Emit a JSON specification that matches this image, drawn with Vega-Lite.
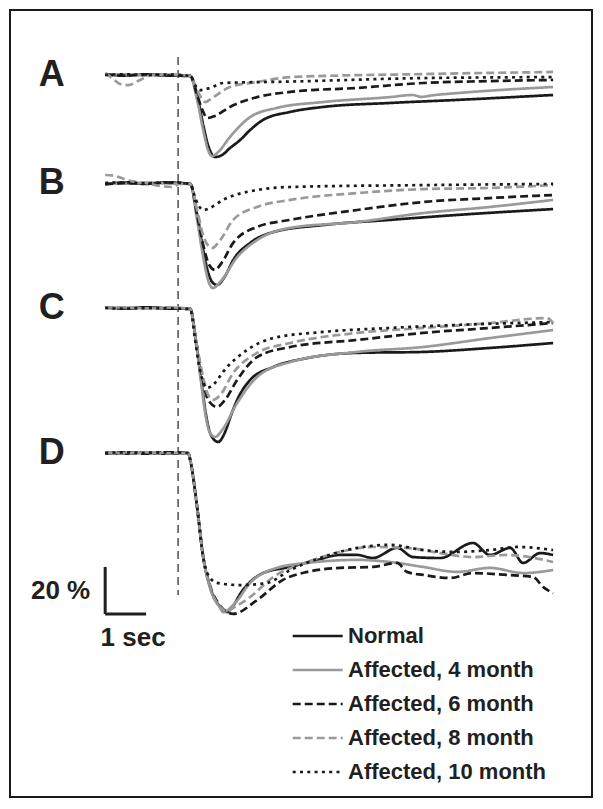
{
"$schema":"https://vega.github.io/schema/vega-lite/v6.json",
"width":603,"height":809,
"autosize":{"type":"fit","contains":"padding"},
"padding":{"top":10,"left":10,"right":11,"bottom":12},
"background":"white",
"config":{"view":{"stroke":"#1a1a1a","strokeWidth":2},"font":"Liberation Sans"},
"datasets":{"traces":[
{"panel":"A","group":"Normal","t":-1.8,"v":0.3},{"panel":"A","group":"Normal","t":-1.3,"v":-0.2},{"panel":"A","group":"Normal","t":-0.8,"v":0.2},{"panel":"A","group":"Normal","t":-0.3,"v":-0.2},{"panel":"A","group":"Normal","t":0.3,"v":-0.4},{"panel":"A","group":"Normal","t":0.47,"v":-8.5},{"panel":"A","group":"Normal","t":0.62,"v":-21.3},{"panel":"A","group":"Normal","t":0.74,"v":-29.8},{"panel":"A","group":"Normal","t":0.91,"v":-34.9},{"panel":"A","group":"Normal","t":1.09,"v":-34.0},{"panel":"A","group":"Normal","t":1.28,"v":-31.1},{"panel":"A","group":"Normal","t":1.53,"v":-27.7},{"panel":"A","group":"Normal","t":1.78,"v":-23.4},{"panel":"A","group":"Normal","t":2.1,"v":-19.1},{"panel":"A","group":"Normal","t":2.77,"v":-15.7},{"panel":"A","group":"Normal","t":3.58,"v":-13.6},{"panel":"A","group":"Normal","t":5.23,"v":-11.9},{"panel":"A","group":"Normal","t":6.89,"v":-10.6},{"panel":"A","group":"Normal","t":9.26,"v":-8.5},
{"panel":"A","group":"Affected, 4 month","t":-1.8,"v":0},{"panel":"A","group":"Affected, 4 month","t":-1.3,"v":0.3},{"panel":"A","group":"Affected, 4 month","t":-0.8,"v":-0.2},{"panel":"A","group":"Affected, 4 month","t":-0.3,"v":0.2},{"panel":"A","group":"Affected, 4 month","t":0.3,"v":-0.4},{"panel":"A","group":"Affected, 4 month","t":0.47,"v":-10.6},{"panel":"A","group":"Affected, 4 month","t":0.62,"v":-23.4},{"panel":"A","group":"Affected, 4 month","t":0.74,"v":-31.9},{"panel":"A","group":"Affected, 4 month","t":0.84,"v":-34.5},{"panel":"A","group":"Affected, 4 month","t":0.99,"v":-32.8},{"panel":"A","group":"Affected, 4 month","t":1.28,"v":-26.4},{"panel":"A","group":"Affected, 4 month","t":1.78,"v":-17.9},{"panel":"A","group":"Affected, 4 month","t":2.44,"v":-14.0},{"panel":"A","group":"Affected, 4 month","t":3.58,"v":-11.5},{"panel":"A","group":"Affected, 4 month","t":5.23,"v":-9.4},{"panel":"A","group":"Affected, 4 month","t":5.8,"v":-8.5},{"panel":"A","group":"Affected, 4 month","t":6.0,"v":-9.3},{"panel":"A","group":"Affected, 4 month","t":6.3,"v":-8.6},{"panel":"A","group":"Affected, 4 month","t":6.89,"v":-7.7},{"panel":"A","group":"Affected, 4 month","t":9.26,"v":-5.1},
{"panel":"A","group":"Affected, 6 month","t":-1.8,"v":0.2},{"panel":"A","group":"Affected, 6 month","t":-1.3,"v":-0.3},{"panel":"A","group":"Affected, 6 month","t":-0.8,"v":0.3},{"panel":"A","group":"Affected, 6 month","t":-0.3,"v":-0.2},{"panel":"A","group":"Affected, 6 month","t":0.3,"v":-0.4},{"panel":"A","group":"Affected, 6 month","t":0.47,"v":-8.5},{"panel":"A","group":"Affected, 6 month","t":0.62,"v":-15.7},{"panel":"A","group":"Affected, 6 month","t":0.72,"v":-18.3},{"panel":"A","group":"Affected, 6 month","t":0.91,"v":-17.4},{"panel":"A","group":"Affected, 6 month","t":1.28,"v":-13.6},{"panel":"A","group":"Affected, 6 month","t":1.95,"v":-9.4},{"panel":"A","group":"Affected, 6 month","t":2.77,"v":-7.2},{"panel":"A","group":"Affected, 6 month","t":4.42,"v":-5.5},{"panel":"A","group":"Affected, 6 month","t":6.05,"v":-3.4},{"panel":"A","group":"Affected, 6 month","t":7.7,"v":-2.6},{"panel":"A","group":"Affected, 6 month","t":9.26,"v":-2.1},
{"panel":"A","group":"Affected, 8 month","t":-1.8,"v":0.9},{"panel":"A","group":"Affected, 8 month","t":-1.63,"v":-1.3},{"panel":"A","group":"Affected, 8 month","t":-1.43,"v":-3.8},{"panel":"A","group":"Affected, 8 month","t":-1.23,"v":-4.3},{"panel":"A","group":"Affected, 8 month","t":-0.94,"v":-2.1},{"panel":"A","group":"Affected, 8 month","t":-0.64,"v":0},{"panel":"A","group":"Affected, 8 month","t":-0.3,"v":0.2},{"panel":"A","group":"Affected, 8 month","t":0.3,"v":-0.4},{"panel":"A","group":"Affected, 8 month","t":0.49,"v":-7.2},{"panel":"A","group":"Affected, 8 month","t":0.67,"v":-11.5},{"panel":"A","group":"Affected, 8 month","t":0.84,"v":-9.8},{"panel":"A","group":"Affected, 8 month","t":1.28,"v":-5.1},{"panel":"A","group":"Affected, 8 month","t":1.95,"v":-3.0},{"panel":"A","group":"Affected, 8 month","t":2.77,"v":-0.9},{"panel":"A","group":"Affected, 8 month","t":6.05,"v":0.4},{"panel":"A","group":"Affected, 8 month","t":9.26,"v":1.3},
{"panel":"A","group":"Affected, 10 month","t":-1.8,"v":0},{"panel":"A","group":"Affected, 10 month","t":-1.3,"v":0.3},{"panel":"A","group":"Affected, 10 month","t":-0.8,"v":0},{"panel":"A","group":"Affected, 10 month","t":-0.3,"v":0.2},{"panel":"A","group":"Affected, 10 month","t":0.3,"v":-0.4},{"panel":"A","group":"Affected, 10 month","t":0.42,"v":-4.3},{"panel":"A","group":"Affected, 10 month","t":0.54,"v":-6.4},{"panel":"A","group":"Affected, 10 month","t":0.79,"v":-5.5},{"panel":"A","group":"Affected, 10 month","t":1.11,"v":-3.4},{"panel":"A","group":"Affected, 10 month","t":2.77,"v":-2.8},{"panel":"A","group":"Affected, 10 month","t":6.05,"v":-1.3},{"panel":"A","group":"Affected, 10 month","t":9.26,"v":-0.9},
{"panel":"B","group":"Normal","t":-1.8,"v":-0.4},{"panel":"B","group":"Normal","t":-1.3,"v":0.2},{"panel":"B","group":"Normal","t":-0.8,"v":-0.3},{"panel":"B","group":"Normal","t":-0.3,"v":0.2},{"panel":"B","group":"Normal","t":0.3,"v":-0.4},{"panel":"B","group":"Normal","t":0.47,"v":-13.6},{"panel":"B","group":"Normal","t":0.62,"v":-28.5},{"panel":"B","group":"Normal","t":0.74,"v":-37.9},{"panel":"B","group":"Normal","t":0.84,"v":-42.1},{"panel":"B","group":"Normal","t":0.96,"v":-43.4},{"panel":"B","group":"Normal","t":1.16,"v":-39.6},{"panel":"B","group":"Normal","t":1.36,"v":-32.8},{"panel":"B","group":"Normal","t":1.78,"v":-25.5},{"panel":"B","group":"Normal","t":2.35,"v":-20.9},{"panel":"B","group":"Normal","t":3.58,"v":-17.9},{"panel":"B","group":"Normal","t":5.23,"v":-15.7},{"panel":"B","group":"Normal","t":6.89,"v":-13.6},{"panel":"B","group":"Normal","t":9.26,"v":-11.1},
{"panel":"B","group":"Affected, 4 month","t":-1.8,"v":0},{"panel":"B","group":"Affected, 4 month","t":-1.3,"v":-0.3},{"panel":"B","group":"Affected, 4 month","t":-0.8,"v":0.2},{"panel":"B","group":"Affected, 4 month","t":-0.3,"v":-0.2},{"panel":"B","group":"Affected, 4 month","t":0.3,"v":-0.4},{"panel":"B","group":"Affected, 4 month","t":0.47,"v":-15.7},{"panel":"B","group":"Affected, 4 month","t":0.62,"v":-31.5},{"panel":"B","group":"Affected, 4 month","t":0.74,"v":-41.3},{"panel":"B","group":"Affected, 4 month","t":0.86,"v":-44.7},{"panel":"B","group":"Affected, 4 month","t":1.04,"v":-42.1},{"panel":"B","group":"Affected, 4 month","t":1.46,"v":-31.5},{"panel":"B","group":"Affected, 4 month","t":1.95,"v":-24.3},{"panel":"B","group":"Affected, 4 month","t":2.77,"v":-19.1},{"panel":"B","group":"Affected, 4 month","t":4.42,"v":-16.6},{"panel":"B","group":"Affected, 4 month","t":6.05,"v":-12.8},{"panel":"B","group":"Affected, 4 month","t":7.7,"v":-10.2},{"panel":"B","group":"Affected, 4 month","t":9.26,"v":-7.2},
{"panel":"B","group":"Affected, 6 month","t":-1.8,"v":-0.6},{"panel":"B","group":"Affected, 6 month","t":-1.3,"v":0},{"panel":"B","group":"Affected, 6 month","t":-0.8,"v":-0.4},{"panel":"B","group":"Affected, 6 month","t":-0.3,"v":0.2},{"panel":"B","group":"Affected, 6 month","t":0.3,"v":-0.4},{"panel":"B","group":"Affected, 6 month","t":0.47,"v":-13.6},{"panel":"B","group":"Affected, 6 month","t":0.62,"v":-26.4},{"panel":"B","group":"Affected, 6 month","t":0.77,"v":-34.9},{"panel":"B","group":"Affected, 6 month","t":0.91,"v":-37.0},{"panel":"B","group":"Affected, 6 month","t":1.09,"v":-33.6},{"panel":"B","group":"Affected, 6 month","t":1.36,"v":-25.5},{"panel":"B","group":"Affected, 6 month","t":1.95,"v":-18.7},{"panel":"B","group":"Affected, 6 month","t":2.77,"v":-15.7},{"panel":"B","group":"Affected, 6 month","t":4.42,"v":-11.5},{"panel":"B","group":"Affected, 6 month","t":6.05,"v":-8.1},{"panel":"B","group":"Affected, 6 month","t":7.7,"v":-6.4},{"panel":"B","group":"Affected, 6 month","t":9.26,"v":-5.1},
{"panel":"B","group":"Affected, 8 month","t":-1.8,"v":3.4},{"panel":"B","group":"Affected, 8 month","t":-1.56,"v":3.0},{"panel":"B","group":"Affected, 8 month","t":-1.19,"v":0.9},{"panel":"B","group":"Affected, 8 month","t":-0.81,"v":0},{"panel":"B","group":"Affected, 8 month","t":-0.44,"v":-1.3},{"panel":"B","group":"Affected, 8 month","t":-0.15,"v":-1.7},{"panel":"B","group":"Affected, 8 month","t":0.05,"v":-0.4},{"panel":"B","group":"Affected, 8 month","t":0.3,"v":-0.4},{"panel":"B","group":"Affected, 8 month","t":0.47,"v":-11.5},{"panel":"B","group":"Affected, 8 month","t":0.64,"v":-23.4},{"panel":"B","group":"Affected, 8 month","t":0.84,"v":-27.7},{"panel":"B","group":"Affected, 8 month","t":1.04,"v":-24.3},{"panel":"B","group":"Affected, 8 month","t":1.36,"v":-15.7},{"panel":"B","group":"Affected, 8 month","t":1.95,"v":-10.2},{"panel":"B","group":"Affected, 8 month","t":2.77,"v":-7.2},{"panel":"B","group":"Affected, 8 month","t":4.42,"v":-4.3},{"panel":"B","group":"Affected, 8 month","t":6.05,"v":-2.6},{"panel":"B","group":"Affected, 8 month","t":7.7,"v":-2.1},{"panel":"B","group":"Affected, 8 month","t":9.26,"v":-0.9},
{"panel":"B","group":"Affected, 10 month","t":-1.8,"v":0},{"panel":"B","group":"Affected, 10 month","t":-1.3,"v":0.3},{"panel":"B","group":"Affected, 10 month","t":-0.8,"v":-0.2},{"panel":"B","group":"Affected, 10 month","t":-0.3,"v":0.3},{"panel":"B","group":"Affected, 10 month","t":0.3,"v":-0.4},{"panel":"B","group":"Affected, 10 month","t":0.44,"v":-7.2},{"panel":"B","group":"Affected, 10 month","t":0.62,"v":-11.5},{"panel":"B","group":"Affected, 10 month","t":0.79,"v":-10.6},{"panel":"B","group":"Affected, 10 month","t":1.11,"v":-7.2},{"panel":"B","group":"Affected, 10 month","t":1.95,"v":-3.0},{"panel":"B","group":"Affected, 10 month","t":2.77,"v":-1.7},{"panel":"B","group":"Affected, 10 month","t":6.05,"v":-0.9},{"panel":"B","group":"Affected, 10 month","t":9.26,"v":-0.4},
{"panel":"C","group":"Normal","t":-1.8,"v":0.2},{"panel":"C","group":"Normal","t":-1.3,"v":-0.2},{"panel":"C","group":"Normal","t":-0.8,"v":0.3},{"panel":"C","group":"Normal","t":-0.3,"v":-0.2},{"panel":"C","group":"Normal","t":0.3,"v":-0.4},{"panel":"C","group":"Normal","t":0.44,"v":-13.6},{"panel":"C","group":"Normal","t":0.57,"v":-30.6},{"panel":"C","group":"Normal","t":0.69,"v":-45.5},{"panel":"C","group":"Normal","t":0.81,"v":-54.0},{"panel":"C","group":"Normal","t":0.99,"v":-57.0},{"panel":"C","group":"Normal","t":1.16,"v":-52.8},{"panel":"C","group":"Normal","t":1.31,"v":-45.5},{"panel":"C","group":"Normal","t":1.46,"v":-39.1},{"panel":"C","group":"Normal","t":1.78,"v":-30.6},{"panel":"C","group":"Normal","t":2.35,"v":-25.1},{"panel":"C","group":"Normal","t":3.19,"v":-21.3},{"panel":"C","group":"Normal","t":4.42,"v":-19.1},{"panel":"C","group":"Normal","t":6.05,"v":-18.7},{"panel":"C","group":"Normal","t":7.7,"v":-17.0},{"panel":"C","group":"Normal","t":9.26,"v":-14.9},
{"panel":"C","group":"Affected, 4 month","t":-1.8,"v":0},{"panel":"C","group":"Affected, 4 month","t":-1.3,"v":0.2},{"panel":"C","group":"Affected, 4 month","t":-0.8,"v":-0.2},{"panel":"C","group":"Affected, 4 month","t":-0.3,"v":0.2},{"panel":"C","group":"Affected, 4 month","t":0.3,"v":-0.4},{"panel":"C","group":"Affected, 4 month","t":0.44,"v":-14.5},{"panel":"C","group":"Affected, 4 month","t":0.57,"v":-31.9},{"panel":"C","group":"Affected, 4 month","t":0.69,"v":-46.8},{"panel":"C","group":"Affected, 4 month","t":0.79,"v":-53.2},{"panel":"C","group":"Affected, 4 month","t":0.91,"v":-54.9},{"panel":"C","group":"Affected, 4 month","t":1.09,"v":-51.9},{"panel":"C","group":"Affected, 4 month","t":1.46,"v":-40.4},{"panel":"C","group":"Affected, 4 month","t":1.95,"v":-29.4},{"panel":"C","group":"Affected, 4 month","t":2.77,"v":-23.0},{"panel":"C","group":"Affected, 4 month","t":4.42,"v":-18.7},{"panel":"C","group":"Affected, 4 month","t":6.05,"v":-16.6},{"panel":"C","group":"Affected, 4 month","t":7.7,"v":-12.8},{"panel":"C","group":"Affected, 4 month","t":9.26,"v":-9.4},
{"panel":"C","group":"Affected, 6 month","t":-1.8,"v":0.3},{"panel":"C","group":"Affected, 6 month","t":-1.3,"v":-0.2},{"panel":"C","group":"Affected, 6 month","t":-0.8,"v":0.2},{"panel":"C","group":"Affected, 6 month","t":-0.3,"v":0},{"panel":"C","group":"Affected, 6 month","t":0.3,"v":-0.4},{"panel":"C","group":"Affected, 6 month","t":0.44,"v":-13.6},{"panel":"C","group":"Affected, 6 month","t":0.59,"v":-28.5},{"panel":"C","group":"Affected, 6 month","t":0.74,"v":-39.1},{"panel":"C","group":"Affected, 6 month","t":0.96,"v":-42.1},{"panel":"C","group":"Affected, 6 month","t":1.16,"v":-39.1},{"panel":"C","group":"Affected, 6 month","t":1.46,"v":-30.6},{"panel":"C","group":"Affected, 6 month","t":1.95,"v":-20.9},{"panel":"C","group":"Affected, 6 month","t":2.77,"v":-16.6},{"panel":"C","group":"Affected, 6 month","t":4.42,"v":-13.6},{"panel":"C","group":"Affected, 6 month","t":6.05,"v":-10.6},{"panel":"C","group":"Affected, 6 month","t":7.7,"v":-8.5},{"panel":"C","group":"Affected, 6 month","t":9.26,"v":-6.4},
{"panel":"C","group":"Affected, 8 month","t":-1.8,"v":0.2},{"panel":"C","group":"Affected, 8 month","t":-1.3,"v":0.3},{"panel":"C","group":"Affected, 8 month","t":-0.8,"v":-0.2},{"panel":"C","group":"Affected, 8 month","t":-0.3,"v":0.2},{"panel":"C","group":"Affected, 8 month","t":0.3,"v":-0.4},{"panel":"C","group":"Affected, 8 month","t":0.44,"v":-13.6},{"panel":"C","group":"Affected, 8 month","t":0.59,"v":-27.2},{"panel":"C","group":"Affected, 8 month","t":0.74,"v":-37.0},{"panel":"C","group":"Affected, 8 month","t":0.86,"v":-39.1},{"panel":"C","group":"Affected, 8 month","t":1.04,"v":-37.0},{"panel":"C","group":"Affected, 8 month","t":1.36,"v":-27.7},{"panel":"C","group":"Affected, 8 month","t":1.95,"v":-19.1},{"panel":"C","group":"Affected, 8 month","t":2.77,"v":-14.9},{"panel":"C","group":"Affected, 8 month","t":4.42,"v":-10.6},{"panel":"C","group":"Affected, 8 month","t":6.05,"v":-8.5},{"panel":"C","group":"Affected, 8 month","t":7.7,"v":-6.4},{"panel":"C","group":"Affected, 8 month","t":9.11,"v":-4.3},{"panel":"C","group":"Affected, 8 month","t":9.26,"v":-6.4},
{"panel":"C","group":"Affected, 10 month","t":-1.8,"v":0},{"panel":"C","group":"Affected, 10 month","t":-1.3,"v":-0.3},{"panel":"C","group":"Affected, 10 month","t":-0.8,"v":0},{"panel":"C","group":"Affected, 10 month","t":-0.3,"v":-0.2},{"panel":"C","group":"Affected, 10 month","t":0.3,"v":-0.4},{"panel":"C","group":"Affected, 10 month","t":0.42,"v":-13.6},{"panel":"C","group":"Affected, 10 month","t":0.54,"v":-26.4},{"panel":"C","group":"Affected, 10 month","t":0.72,"v":-34.0},{"panel":"C","group":"Affected, 10 month","t":0.91,"v":-31.9},{"panel":"C","group":"Affected, 10 month","t":1.11,"v":-27.2},{"panel":"C","group":"Affected, 10 month","t":1.7,"v":-17.9},{"panel":"C","group":"Affected, 10 month","t":2.35,"v":-12.8},{"panel":"C","group":"Affected, 10 month","t":3.58,"v":-10.2},{"panel":"C","group":"Affected, 10 month","t":5.23,"v":-8.5},{"panel":"C","group":"Affected, 10 month","t":6.89,"v":-7.2},{"panel":"C","group":"Affected, 10 month","t":9.26,"v":-6.0},
{"panel":"D","group":"Normal","t":-1.8,"v":0.3},{"panel":"D","group":"Normal","t":-1.3,"v":-0.3},{"panel":"D","group":"Normal","t":-0.8,"v":0.2},{"panel":"D","group":"Normal","t":-0.3,"v":-0.3},{"panel":"D","group":"Normal","t":0.25,"v":0},{"panel":"D","group":"Normal","t":0.3,"v":-3.0},{"panel":"D","group":"Normal","t":0.47,"v":-23.0},{"panel":"D","group":"Normal","t":0.62,"v":-44.3},{"panel":"D","group":"Normal","t":0.79,"v":-57.0},{"panel":"D","group":"Normal","t":1.04,"v":-65.5},{"panel":"D","group":"Normal","t":1.21,"v":-67.7},{"panel":"D","group":"Normal","t":1.28,"v":-66.8},{"panel":"D","group":"Normal","t":1.6,"v":-58.3},{"panel":"D","group":"Normal","t":2.1,"v":-51.1},{"panel":"D","group":"Normal","t":2.77,"v":-48.5},{"panel":"D","group":"Normal","t":3.43,"v":-45.5},{"panel":"D","group":"Normal","t":4.0,"v":-43.4},{"panel":"D","group":"Normal","t":4.42,"v":-43.4},{"panel":"D","group":"Normal","t":4.81,"v":-44.7},{"panel":"D","group":"Normal","t":5.41,"v":-40.4},{"panel":"D","group":"Normal","t":5.8,"v":-44.3},{"panel":"D","group":"Normal","t":6.47,"v":-44.7},{"panel":"D","group":"Normal","t":7.28,"v":-38.3},{"panel":"D","group":"Normal","t":7.7,"v":-43.4},{"panel":"D","group":"Normal","t":8.2,"v":-40.4},{"panel":"D","group":"Normal","t":8.52,"v":-46.8},{"panel":"D","group":"Normal","t":8.94,"v":-42.6},{"panel":"D","group":"Normal","t":9.26,"v":-43.4},
{"panel":"D","group":"Affected, 4 month","t":-1.8,"v":0},{"panel":"D","group":"Affected, 4 month","t":-1.3,"v":0.3},{"panel":"D","group":"Affected, 4 month","t":-0.8,"v":-0.2},{"panel":"D","group":"Affected, 4 month","t":-0.3,"v":0.2},{"panel":"D","group":"Affected, 4 month","t":0.25,"v":0},{"panel":"D","group":"Affected, 4 month","t":0.3,"v":-3.0},{"panel":"D","group":"Affected, 4 month","t":0.47,"v":-23.0},{"panel":"D","group":"Affected, 4 month","t":0.62,"v":-44.3},{"panel":"D","group":"Affected, 4 month","t":0.79,"v":-57.4},{"panel":"D","group":"Affected, 4 month","t":1.04,"v":-66.0},{"panel":"D","group":"Affected, 4 month","t":1.11,"v":-67.7},{"panel":"D","group":"Affected, 4 month","t":1.41,"v":-63.8},{"panel":"D","group":"Affected, 4 month","t":1.78,"v":-55.3},{"panel":"D","group":"Affected, 4 month","t":2.44,"v":-48.9},{"panel":"D","group":"Affected, 4 month","t":3.19,"v":-46.8},{"panel":"D","group":"Affected, 4 month","t":4.42,"v":-45.5},{"panel":"D","group":"Affected, 4 month","t":5.23,"v":-46.4},{"panel":"D","group":"Affected, 4 month","t":6.05,"v":-48.5},{"panel":"D","group":"Affected, 4 month","t":6.89,"v":-50.6},{"panel":"D","group":"Affected, 4 month","t":7.7,"v":-48.9},{"panel":"D","group":"Affected, 4 month","t":8.52,"v":-51.1},{"panel":"D","group":"Affected, 4 month","t":9.26,"v":-49.8},
{"panel":"D","group":"Affected, 6 month","t":-1.8,"v":-0.3},{"panel":"D","group":"Affected, 6 month","t":-1.3,"v":0.2},{"panel":"D","group":"Affected, 6 month","t":-0.8,"v":-0.3},{"panel":"D","group":"Affected, 6 month","t":-0.3,"v":0.3},{"panel":"D","group":"Affected, 6 month","t":0.25,"v":0},{"panel":"D","group":"Affected, 6 month","t":0.3,"v":-3.0},{"panel":"D","group":"Affected, 6 month","t":0.47,"v":-23.0},{"panel":"D","group":"Affected, 6 month","t":0.62,"v":-44.3},{"panel":"D","group":"Affected, 6 month","t":0.79,"v":-56.5},{"panel":"D","group":"Affected, 6 month","t":1.04,"v":-65.0},{"panel":"D","group":"Affected, 6 month","t":1.21,"v":-67.7},{"panel":"D","group":"Affected, 6 month","t":1.36,"v":-68.5},{"panel":"D","group":"Affected, 6 month","t":1.95,"v":-62.6},{"panel":"D","group":"Affected, 6 month","t":2.59,"v":-54.0},{"panel":"D","group":"Affected, 6 month","t":3.19,"v":-50.6},{"panel":"D","group":"Affected, 6 month","t":4.0,"v":-48.9},{"panel":"D","group":"Affected, 6 month","t":4.81,"v":-48.5},{"panel":"D","group":"Affected, 6 month","t":5.41,"v":-46.8},{"panel":"D","group":"Affected, 6 month","t":5.65,"v":-50.6},{"panel":"D","group":"Affected, 6 month","t":6.05,"v":-51.9},{"panel":"D","group":"Affected, 6 month","t":6.72,"v":-53.2},{"panel":"D","group":"Affected, 6 month","t":7.28,"v":-51.1},{"panel":"D","group":"Affected, 6 month","t":8.12,"v":-51.9},{"panel":"D","group":"Affected, 6 month","t":8.77,"v":-52.8},{"panel":"D","group":"Affected, 6 month","t":9.01,"v":-57.0},{"panel":"D","group":"Affected, 6 month","t":9.26,"v":-59.6},
{"panel":"D","group":"Affected, 8 month","t":-1.8,"v":0.2},{"panel":"D","group":"Affected, 8 month","t":-1.3,"v":-0.2},{"panel":"D","group":"Affected, 8 month","t":-0.8,"v":0.3},{"panel":"D","group":"Affected, 8 month","t":-0.3,"v":-0.2},{"panel":"D","group":"Affected, 8 month","t":0.25,"v":0},{"panel":"D","group":"Affected, 8 month","t":0.3,"v":-3.0},{"panel":"D","group":"Affected, 8 month","t":0.47,"v":-23.0},{"panel":"D","group":"Affected, 8 month","t":0.62,"v":-44.3},{"panel":"D","group":"Affected, 8 month","t":0.79,"v":-57.0},{"panel":"D","group":"Affected, 8 month","t":1.04,"v":-65.5},{"panel":"D","group":"Affected, 8 month","t":1.21,"v":-67.5},{"panel":"D","group":"Affected, 8 month","t":1.28,"v":-66.8},{"panel":"D","group":"Affected, 8 month","t":1.78,"v":-61.3},{"panel":"D","group":"Affected, 8 month","t":2.35,"v":-52.8},{"panel":"D","group":"Affected, 8 month","t":3.19,"v":-46.4},{"panel":"D","group":"Affected, 8 month","t":4.0,"v":-42.1},{"panel":"D","group":"Affected, 8 month","t":4.81,"v":-40.0},{"panel":"D","group":"Affected, 8 month","t":5.65,"v":-40.4},{"panel":"D","group":"Affected, 8 month","t":6.47,"v":-42.6},{"panel":"D","group":"Affected, 8 month","t":7.28,"v":-44.3},{"panel":"D","group":"Affected, 8 month","t":8.12,"v":-43.4},{"panel":"D","group":"Affected, 8 month","t":9.26,"v":-46.4},
{"panel":"D","group":"Affected, 10 month","t":-1.8,"v":0},{"panel":"D","group":"Affected, 10 month","t":-1.3,"v":0.3},{"panel":"D","group":"Affected, 10 month","t":-0.8,"v":0},{"panel":"D","group":"Affected, 10 month","t":-0.3,"v":0.3},{"panel":"D","group":"Affected, 10 month","t":0.25,"v":0},{"panel":"D","group":"Affected, 10 month","t":0.3,"v":-3.0},{"panel":"D","group":"Affected, 10 month","t":0.47,"v":-23.0},{"panel":"D","group":"Affected, 10 month","t":0.62,"v":-44.3},{"panel":"D","group":"Affected, 10 month","t":0.72,"v":-51.1},{"panel":"D","group":"Affected, 10 month","t":0.96,"v":-55.3},{"panel":"D","group":"Affected, 10 month","t":1.53,"v":-56.2},{"panel":"D","group":"Affected, 10 month","t":2.2,"v":-55.3},{"panel":"D","group":"Affected, 10 month","t":2.77,"v":-49.8},{"panel":"D","group":"Affected, 10 month","t":3.58,"v":-44.3},{"panel":"D","group":"Affected, 10 month","t":4.42,"v":-40.4},{"panel":"D","group":"Affected, 10 month","t":5.23,"v":-39.1},{"panel":"D","group":"Affected, 10 month","t":6.05,"v":-41.3},{"panel":"D","group":"Affected, 10 month","t":6.89,"v":-42.1},{"panel":"D","group":"Affected, 10 month","t":7.7,"v":-41.3},{"panel":"D","group":"Affected, 10 month","t":8.37,"v":-40.0},{"panel":"D","group":"Affected, 10 month","t":9.26,"v":-41.3}
]},
"data":{"name":"traces"},
"resolve":{"scale":{"y":"independent"}},
"layer":[
 {"data":{"values":[{}]},"mark":{"type":"rule","strokeDash":[8,5],"strokeWidth":1.3,"color":"#333333"},
  "encoding":{"x":{"datum":0,"type":"quantitative","scale":{"domain":[-4.15,10.22],"nice":false,"zero":false},"axis":null},
   "y":{"datum":168.5,"type":"quantitative","scale":{"domain":[-146.4,188.51],"nice":false,"zero":false},"axis":null},"y2":{"datum":-60.4}}},
 {"transform":[{"filter":"datum.panel==='A'"}],"mark":{"type":"line","interpolate":"monotone","strokeWidth":2.7},
  "encoding":{"x":{"field":"t","type":"quantitative","axis":null},
   "y":{"field":"v","type":"quantitative","scale":{"domain":[-307.2,27.66],"nice":false,"zero":false},"axis":null},
   "color":{"field":"group","type":"nominal","scale":{"domain":["Normal","Affected, 4 month","Affected, 6 month","Affected, 8 month","Affected, 10 month"],"range":["#1a1a1a","#9a9a9a","#1a1a1a","#9a9a9a","#1a1a1a"]},
     "legend":{"title":null,"orient":"none","legendX":280,"legendY":615,"symbolType":"M-3,0H3","symbolSize":278,"symbolOffset":16.7,"symbolStrokeWidth":2.7,"labelFontSize":22,"labelFontWeight":"bold","labelFont":"Liberation Sans","labelColor":"#231f20","rowPadding":12,"labelOffset":19.3,"labelLimit":400}},
   "strokeDash":{"field":"group","type":"nominal","scale":{"domain":["Normal","Affected, 4 month","Affected, 6 month","Affected, 8 month","Affected, 10 month"],"range":[[1,0],[1,0],[8,4],[8,4],[3,4.3]]},
     "legend":{"title":null,"orient":"none","legendX":280,"legendY":615,"symbolType":"M-3,0H3","symbolSize":278,"symbolOffset":16.7,"symbolStrokeWidth":2.7,"labelFontSize":22,"labelFontWeight":"bold","labelFont":"Liberation Sans","labelColor":"#231f20","rowPadding":12,"labelOffset":19.3,"labelLimit":400}}}},
 {"transform":[{"filter":"datum.panel==='B'"}],"mark":{"type":"line","interpolate":"monotone","strokeWidth":2.7},
  "encoding":{"x":{"field":"t","type":"quantitative","axis":null},
   "y":{"field":"v","type":"quantitative","scale":{"domain":[-261.3,73.62],"nice":false,"zero":false},"axis":null},
   "color":{"field":"group","type":"nominal","legend":null},
   "strokeDash":{"field":"group","type":"nominal","legend":null}}},
 {"transform":[{"filter":"datum.panel==='C'"}],"mark":{"type":"line","interpolate":"monotone","strokeWidth":2.7},
  "encoding":{"x":{"field":"t","type":"quantitative","axis":null},
   "y":{"field":"v","type":"quantitative","scale":{"domain":[-208.1,126.81],"nice":false,"zero":false},"axis":null},
   "color":{"field":"group","type":"nominal","legend":null},
   "strokeDash":{"field":"group","type":"nominal","legend":null}}},
 {"transform":[{"filter":"datum.panel==='D'"}],"mark":{"type":"line","interpolate":"monotone","strokeWidth":2.7},
  "encoding":{"x":{"field":"t","type":"quantitative","axis":null},
   "y":{"field":"v","type":"quantitative","scale":{"domain":[-146.4,188.51],"nice":false,"zero":false},"axis":null},
   "color":{"field":"group","type":"nominal","legend":null},
   "strokeDash":{"field":"group","type":"nominal","legend":null}}},
 {"data":{"values":[{}]},"mark":{"type":"text","fontSize":36,"fontWeight":"bold","font":"Liberation Sans","color":"#231f20","align":"center","baseline":"middle"},
  "encoding":{"x":{"datum":-3.12,"type":"quantitative","axis":null},"y":{"datum":0,"type":"quantitative","scale":{"domain":[-307.2,27.66],"nice":false,"zero":false},"axis":null},"text":{"value":"A"}}},
 {"data":{"values":[{}]},"mark":{"type":"text","fontSize":36,"fontWeight":"bold","font":"Liberation Sans","color":"#231f20","align":"center","baseline":"middle"},
  "encoding":{"x":{"datum":-3.12,"type":"quantitative","axis":null},"y":{"datum":0,"type":"quantitative","scale":{"domain":[-261.3,73.62],"nice":false,"zero":false},"axis":null},"text":{"value":"B"}}},
 {"data":{"values":[{}]},"mark":{"type":"text","fontSize":36,"fontWeight":"bold","font":"Liberation Sans","color":"#231f20","align":"center","baseline":"middle"},
  "encoding":{"x":{"datum":-3.12,"type":"quantitative","axis":null},"y":{"datum":0,"type":"quantitative","scale":{"domain":[-208.1,126.81],"nice":false,"zero":false},"axis":null},"text":{"value":"C"}}},
 {"data":{"values":[{}]},"mark":{"type":"text","fontSize":36,"fontWeight":"bold","font":"Liberation Sans","color":"#231f20","align":"center","baseline":"middle"},
  "encoding":{"x":{"datum":-3.12,"type":"quantitative","axis":null},"y":{"datum":0,"type":"quantitative","scale":{"domain":[-146.4,188.51],"nice":false,"zero":false},"axis":null},"text":{"value":"D"}}},
 {"data":{"values":[{}]},"mark":{"type":"rule","strokeWidth":3,"color":"#231f20"},
  "encoding":{"x":{"datum":-1.8,"type":"quantitative","axis":null},"y":{"datum":-48.5,"type":"quantitative","scale":{"domain":[-146.4,188.51],"nice":false,"zero":false},"axis":null},"y2":{"datum":-68.5}}},
 {"data":{"values":[{}]},"mark":{"type":"rule","strokeWidth":3,"color":"#231f20"},
  "encoding":{"x":{"datum":-1.8,"type":"quantitative","axis":null},"x2":{"datum":-0.79},"y":{"datum":-68.5,"type":"quantitative","scale":{"domain":[-146.4,188.51],"nice":false,"zero":false},"axis":null}}},
 {"data":{"values":[{}]},"mark":{"type":"text","fontSize":26,"fontWeight":"bold","font":"Liberation Sans","color":"#231f20","align":"right","baseline":"alphabetic"},
  "encoding":{"x":{"datum":-2.17,"type":"quantitative","axis":null},"y":{"datum":-62.1,"type":"quantitative","scale":{"domain":[-146.4,188.51],"nice":false,"zero":false},"axis":null},"text":{"value":"20 %"}}},
 {"data":{"values":[{}]},"mark":{"type":"text","fontSize":26,"fontWeight":"bold","font":"Liberation Sans","color":"#231f20","align":"center","baseline":"alphabetic"},
  "encoding":{"x":{"datum":-1.11,"type":"quantitative","axis":null},"y":{"datum":-82.1,"type":"quantitative","scale":{"domain":[-146.4,188.51],"nice":false,"zero":false},"axis":null},"text":{"value":"1 sec"}}}
]
}
